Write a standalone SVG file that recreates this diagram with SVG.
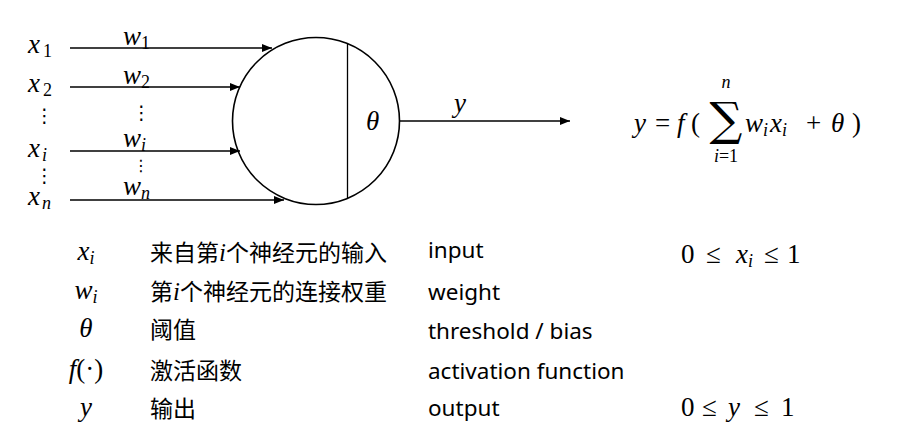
<svg xmlns="http://www.w3.org/2000/svg" width="903" height="444" viewBox="0 0 903 444">
<defs>
<style>
.m{font-family:"Liberation Serif","DejaVu Serif",serif;font-style:italic;font-size:27px;fill:#000}
.up{font-style:normal}
.sub{font-size:18px}
.dots{font-family:"DejaVu Sans",sans-serif;font-size:19px;fill:#000}
.cn{font-family:"Noto Sans CJK SC","Noto Sans",sans-serif;font-size:23px;fill:#000}
.en{font-family:"Noto Sans","Noto Sans CJK SC",sans-serif;font-size:22.5px;fill:#000}
.ln{stroke:#000;stroke-width:1.3;fill:none}
</style>
<marker id="ah" markerUnits="userSpaceOnUse" markerWidth="10" markerHeight="8" refX="10" refY="4" orient="auto">
<path d="M0,0 L10,4 L0,8 Z" fill="#000"/>
</marker>
</defs>
<rect width="903" height="444" fill="#fff"/>

<g id="neuron">
<circle cx="316" cy="121" r="83.5" fill="none" stroke="#000" stroke-width="1.6"/>
<line x1="347.5" y1="43.5" x2="347.5" y2="198" stroke="#000" stroke-width="1.3"/>
<text class="m" x="366" y="130">θ</text>
</g>

<g id="inputs">
<text class="m" x="28" y="53">x<tspan class="sub up" dx="3" dy="4">1</tspan></text>
<text class="m" x="28" y="92">x<tspan class="sub up" dx="3" dy="4">2</tspan></text>
<text class="dots" x="35" y="122">⋮</text>
<text class="m" x="28" y="157">x<tspan class="sub" dx="2" dy="4">i</tspan></text>
<text class="dots" x="35" y="182">⋮</text>
<text class="m" x="28" y="205">x<tspan class="sub" dx="2" dy="4">n</tspan></text>
</g>

<g id="weights">
<text class="m" x="123" y="45">w<tspan class="sub up" dy="4">1</tspan></text>
<text class="m" x="123" y="84">w<tspan class="sub up" dy="4">2</tspan></text>
<text class="dots" x="132" y="119">⋮</text>
<text class="m" x="123" y="147">w<tspan class="sub" dy="4">i</tspan></text>
<text class="dots" x="133" y="171" style="font-size:16px">⋮</text>
<text class="m" x="123" y="195">w<tspan class="sub" dy="4">n</tspan></text>
</g>

<g id="output-label">
<text class="m" x="454" y="112">y</text>
</g>

<g id="connectors">
<line class="ln" x1="70" y1="48" x2="272" y2="48" marker-end="url(#ah)"/>
<line class="ln" x1="70" y1="87" x2="240" y2="87" marker-end="url(#ah)"/>
<line class="ln" x1="70" y1="151" x2="240" y2="151" marker-end="url(#ah)"/>
<line class="ln" x1="70" y1="200" x2="284" y2="200" marker-end="url(#ah)"/>
<line class="ln" x1="399.5" y1="121" x2="570" y2="121" marker-end="url(#ah)"/>
</g>

<g id="formula">
<text class="m"><tspan x="634" y="132">y</tspan><tspan class="up" x="655" y="132">=</tspan><tspan x="677" y="132">f</tspan><tspan class="up" x="691" y="132">(</tspan><tspan x="745" y="132">w</tspan><tspan class="sub" dy="4">i</tspan><tspan x="770" y="132">x</tspan><tspan class="sub" dy="4">i</tspan><tspan class="up" x="806" y="132">+</tspan><tspan x="831" y="132">θ</tspan><tspan class="up" x="852" y="132">)</tspan></text>
<text x="726" y="135" style="font-family:'DejaVu Serif',serif;font-size:46px;fill:#000" text-anchor="middle">∑</text>
<text class="m sub" x="726" y="88" text-anchor="middle">n</text>
<text class="m sub" x="726" y="162" text-anchor="middle">i<tspan class="up">=1</tspan></text>
</g>

<g id="legend">
<text class="m" x="86" y="260" text-anchor="middle">x<tspan class="sub" dy="4">i</tspan></text>
<text class="cn" x="150" y="261">来自第<tspan class="m" style="font-size:25px">i</tspan>个神经元的输入</text>
<text class="en" x="428" y="258">input</text>
<text class="m"><tspan class="up" x="681" y="263">0</tspan><tspan class="up" x="706" y="263">≤</tspan><tspan x="736" y="263">x</tspan><tspan class="sub" dy="4">i</tspan><tspan class="up" x="764" y="263">≤</tspan><tspan class="up" x="787" y="263">1</tspan></text>

<text class="m" x="86" y="299" text-anchor="middle">w<tspan class="sub" dy="4">i</tspan></text>
<text class="cn" x="150" y="300">第<tspan class="m" style="font-size:25px">i</tspan>个神经元的连接权重</text>
<text class="en" x="428" y="300">weight</text>

<text class="m" x="86" y="337" text-anchor="middle">θ</text>
<text class="cn" x="150" y="338">阈值</text>
<text class="en" x="428" y="339">threshold / bias</text>

<text class="m" x="86" y="378" text-anchor="middle">f<tspan class="up">(·)</tspan></text>
<text class="cn" x="150" y="379">激活函数</text>
<text class="en" x="428" y="379">activation function</text>

<text class="m" x="86" y="416" text-anchor="middle">y</text>
<text class="cn" x="150" y="417">输出</text>
<text class="en" x="428" y="416">output</text>
<text class="m"><tspan class="up" x="681" y="416">0</tspan><tspan class="up" x="702" y="416">≤</tspan><tspan x="728" y="416">y</tspan><tspan class="up" x="754" y="416">≤</tspan><tspan class="up" x="781" y="416">1</tspan></text>
</g>
</svg>
